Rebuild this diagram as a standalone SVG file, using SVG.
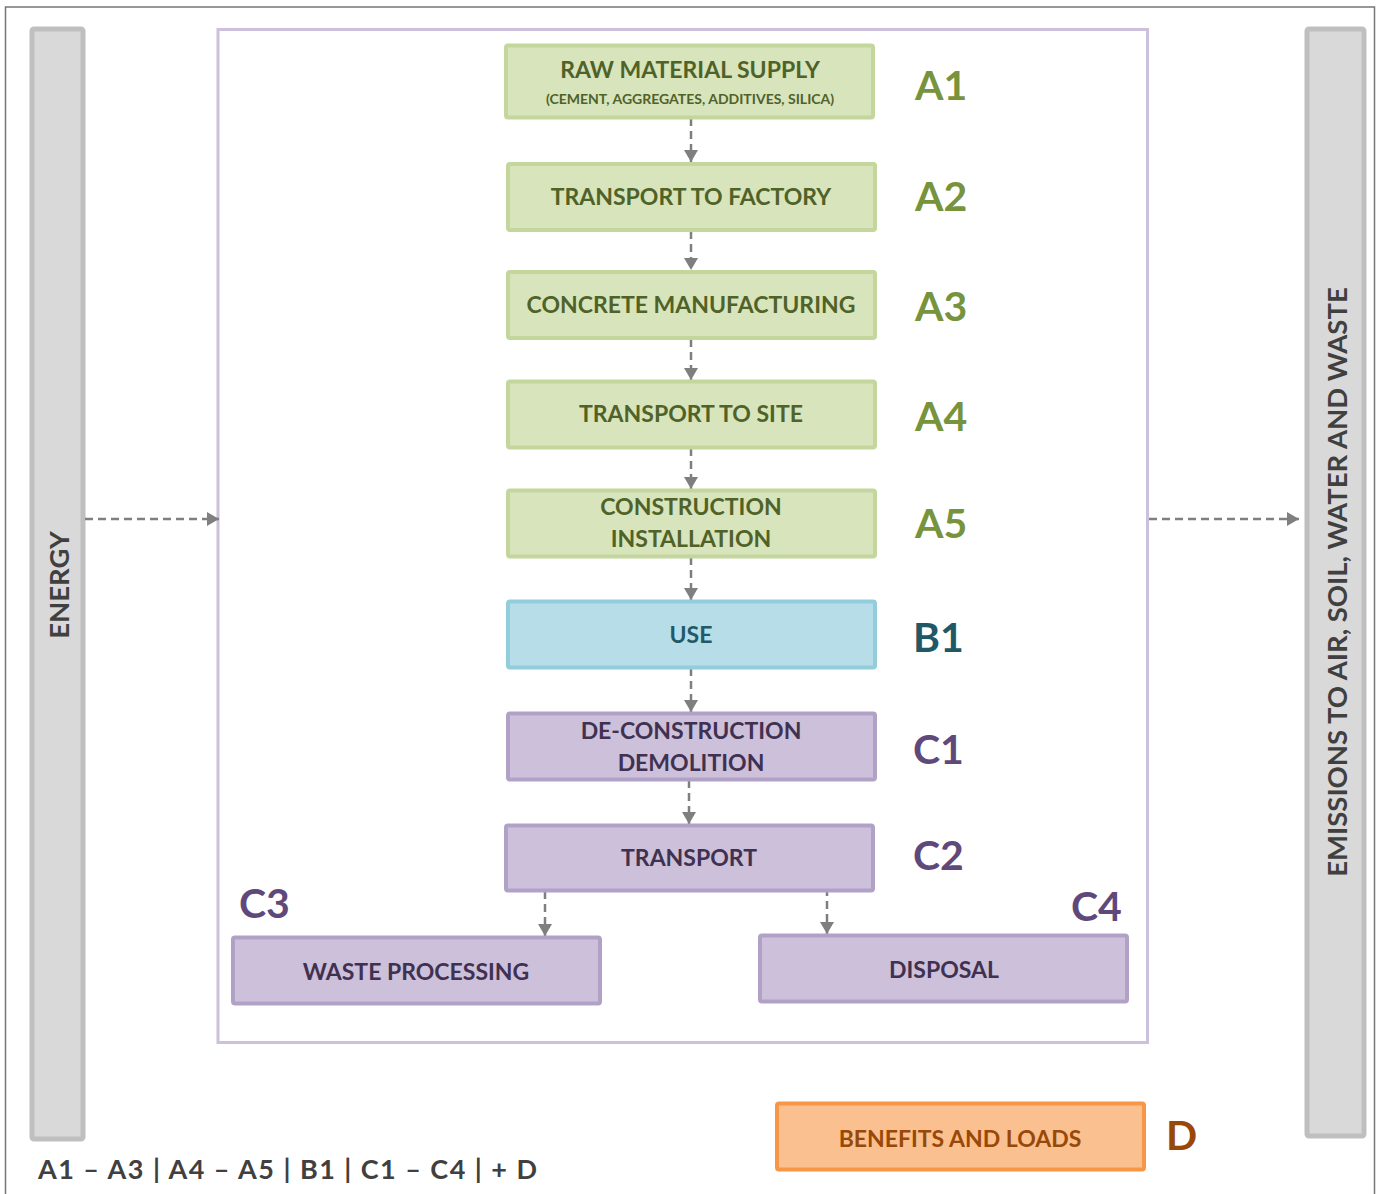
<svg xmlns="http://www.w3.org/2000/svg" width="1382" height="1194" viewBox="0 0 1382 1194">
<defs>
<marker id="ah" viewBox="0 0 12 14" refX="12" refY="7" markerWidth="12" markerHeight="14" markerUnits="userSpaceOnUse" orient="auto">
<path d="M0,0 L12,7 L0,14 Z" fill="#7f7f7f"/>
</marker>
<style>
text{font-family:"Lato","Open Sans","Liberation Sans",sans-serif;font-weight:bold;text-anchor:middle}
.st{text-anchor:start}
.bar{fill:#d9d9d9;stroke:#bfbfbf;stroke-width:5}
.g{fill:#d8e4bc;stroke:#c3d69b;stroke-width:4}
.gt{fill:#4f6228;font-size:23px}
.gl{fill:#77933c;font-size:41px;text-anchor:start}
.b{fill:#b7dde8;stroke:#92cddc;stroke-width:4}
.p{fill:#ccc0da;stroke:#b2a1c7;stroke-width:4}
.pt{fill:#403151;font-size:23px}
.pl{fill:#5f497a;font-size:41px;text-anchor:start}
.o{fill:#fac090;stroke:#f79646;stroke-width:4}
.vt{fill:#404040;font-size:27.5px}
.conn{stroke:#7f7f7f;stroke-width:2.5;stroke-dasharray:8,5;fill:none}
</style>
</defs>
<rect x="0" y="0" width="1382" height="1194" fill="#ffffff"/>
<rect x="5.5" y="7" width="1369" height="1200" fill="none" stroke="#767676" stroke-width="1.5"/>

<g id="energy">
<rect class="bar" x="32" y="29" width="51" height="1110" rx="2"/>
<text class="vt" x="0" y="0" transform="translate(69,585) rotate(-90)">ENERGY</text>
</g>
<g id="emissions">
<rect class="bar" x="1307" y="29" width="57" height="1107" rx="2"/>
<text class="vt" x="0" y="0" transform="translate(1347,582) rotate(-90)">EMISSIONS TO AIR, SOIL, WATER AND WASTE</text>
</g>

<g id="frame">
<rect x="218" y="29.5" width="929.5" height="1013" fill="none" stroke="#ccc0da" stroke-width="3"/>
</g>

<g id="connectors">
<line class="conn" x1="691" y1="118" x2="691" y2="162" marker-end="url(#ah)"/>
<line class="conn" x1="691" y1="231" x2="691" y2="270" marker-end="url(#ah)"/>
<line class="conn" x1="691" y1="339" x2="691" y2="380" marker-end="url(#ah)"/>
<line class="conn" x1="691" y1="448" x2="691" y2="489" marker-end="url(#ah)"/>
<line class="conn" x1="691" y1="557" x2="691" y2="600" marker-end="url(#ah)"/>
<line class="conn" x1="691" y1="668" x2="691" y2="712" marker-end="url(#ah)"/>
<line class="conn" x1="689" y1="780" x2="689" y2="824" marker-end="url(#ah)"/>
<line class="conn" x1="545" y1="891" x2="545" y2="936" marker-end="url(#ah)"/>
<line class="conn" x1="827" y1="888" x2="827" y2="934" marker-end="url(#ah)"/>
<line class="conn" x1="85" y1="519" x2="219" y2="519" marker-end="url(#ah)"/>
<line class="conn" x1="1149" y1="519" x2="1299" y2="519" marker-end="url(#ah)"/>
</g>

<g id="A1">
<rect class="g" x="506" y="45.5" width="367" height="72" rx="2"/>
<text class="gt" x="690" y="78">RAW MATERIAL SUPPLY</text>
<text x="690" y="104" fill="#4f6228" font-size="14" font-weight="normal">(CEMENT, AGGREGATES, ADDITIVES, SILICA)</text>
<text class="gl" x="915" y="100">A1</text>
</g>
<g id="A2">
<rect class="g" x="508" y="164" width="367" height="66" rx="2"/>
<text class="gt" x="691" y="205">TRANSPORT TO FACTORY</text>
<text class="gl" x="915" y="211">A2</text>
</g>
<g id="A3">
<rect class="g" x="508" y="272" width="367" height="66" rx="2"/>
<text class="gt" x="691" y="313">CONCRETE MANUFACTURING</text>
<text class="gl" x="915" y="321">A3</text>
</g>
<g id="A4">
<rect class="g" x="508" y="381.5" width="367" height="66" rx="2"/>
<text class="gt" x="691" y="422">TRANSPORT TO SITE</text>
<text class="gl" x="915" y="431">A4</text>
</g>
<g id="A5">
<rect class="g" x="508" y="490.5" width="367" height="66" rx="2"/>
<text class="gt" x="691" y="515">CONSTRUCTION</text>
<text class="gt" x="691" y="547">INSTALLATION</text>
<text class="gl" x="915" y="538">A5</text>
</g>
<g id="B1">
<rect class="b" x="508" y="601.5" width="367" height="66" rx="2"/>
<text x="691" y="643" fill="#215968" font-size="23">USE</text>
<text class="st" x="913" y="652" fill="#215868" font-size="41">B1</text>
</g>
<g id="C1">
<rect class="p" x="508" y="713.5" width="367" height="66" rx="2"/>
<text class="pt" x="691" y="739">DE-CONSTRUCTION</text>
<text class="pt" x="691" y="771">DEMOLITION</text>
<text class="pl" x="913" y="764">C1</text>
</g>
<g id="C2">
<rect class="p" x="506" y="825.5" width="367" height="65" rx="2"/>
<text class="pt" x="689" y="866">TRANSPORT</text>
<text class="pl" x="913" y="870">C2</text>
</g>
<g id="C3">
<rect class="p" x="233" y="937.5" width="367" height="66" rx="2"/>
<text class="pt" x="416" y="980">WASTE PROCESSING</text>
<text class="pl" x="239" y="918">C3</text>
</g>
<g id="C4">
<rect class="p" x="760" y="935.5" width="367" height="66" rx="2"/>
<text class="pt" x="944" y="978">DISPOSAL</text>
<text class="pl" x="1071" y="921">C4</text>
</g>
<g id="D">
<rect class="o" x="777" y="1103.5" width="367" height="66" rx="2"/>
<text x="960" y="1147" fill="#984807" font-size="23">BENEFITS AND LOADS</text>
<text class="st" x="1166" y="1150" fill="#984807" font-size="41">D</text>
</g>

<text class="st" x="38" y="1179" fill="#404040" font-size="27" textLength="499" lengthAdjust="spacing">A1 – A3 | A4 – A5 | B1 | C1 – C4 | + D</text>
</svg>
